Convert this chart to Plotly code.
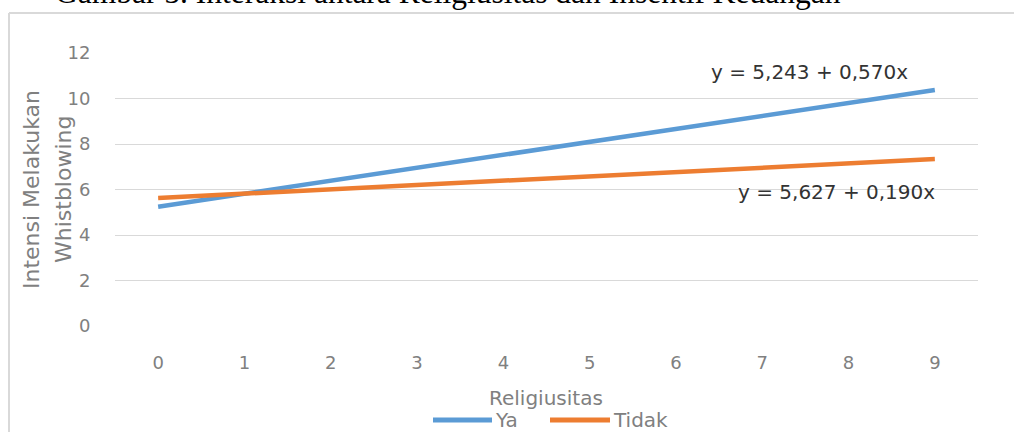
import plotly.graph_objects as go

categories = [0, 1, 2, 3, 4, 5, 6, 7, 8, 9]
series_names = ["Ya", "Tidak"]
series_colors = ["#5b9bd5", "#ed7d31"]
intercept_ya, slope_ya = 5.243, 0.570
intercept_tidak, slope_tidak = 5.627, 0.190
ya_values = [5.243, 5.813, 6.383, 6.953, 7.523, 8.093, 8.663, 9.233, 9.803, 10.373]
tidak_values = [5.627, 5.817, 6.007, 6.197, 6.387, 6.577, 6.767, 6.957, 7.147, 7.337]
y_ticks = [0, 2, 4, 6, 8, 10, 12]
x_title = "Religiusitas"
y_title_lines = ["Intensi Melakukan", "Whistblowing"]
caption = "Gambar 5. Interaksi antara Religiusitas dan Insentif Keuangan"

L, R, T, B = 115, 36, 53, 106
W, H = 1014, 432
pw, ph = W - L - R, H - T - B

def px(x):
    return (x - L) / pw

def py(y):
    return (H - B - y) / ph

font = "'DejaVu Sans', sans-serif"
gray = "#808080"

fig = go.Figure()
for name, vals, col in zip(series_names, [ya_values, tidak_values], series_colors):
    fig.add_trace(go.Scatter(x=categories, y=vals, mode="lines", name=name,
                             line=dict(color=col, width=4.5), showlegend=False,
                             hoverinfo="skip"))

fig.update_layout(
    width=W, height=H,
    margin=dict(l=L, r=R, t=T, b=B, autoexpand=False),
    paper_bgcolor="white", plot_bgcolor="white",
    font=dict(family=font, color=gray, size=18),
    showlegend=False,
    xaxis=dict(range=[-0.5, 9.5], tickvals=categories, showgrid=False, zeroline=False,
               showline=False, ticks="outside", ticklen=20, tickcolor="rgba(0,0,0,0)",
               tickfont=dict(size=18, color=gray), automargin=False),
    yaxis=dict(range=[0, 12], tickvals=y_ticks, showgrid=True, gridcolor="#d9d9d9",
               gridwidth=1, zeroline=False, showline=False, ticks="outside", ticklen=20,
               tickcolor="rgba(0,0,0,0)", tickfont=dict(size=18, color=gray), automargin=False),
)

# axis titles
fig.add_annotation(x=px(546), y=py(398), xref="paper", yref="paper", text=x_title,
                   xanchor="center", yanchor="middle",
                   showarrow=False, font=dict(size=20, color=gray, family=font))
for cx, line in zip([31, 63], y_title_lines):
    fig.add_annotation(x=px(cx), y=py(190), xref="paper", yref="paper", text=line,
                       xanchor="center", yanchor="middle",
                       textangle=-90, showarrow=False, font=dict(size=22, color=gray, family=font))

def eq(a, b):
    return ("y = %.3f + %.3fx" % (a, b)).replace(".", ",")

fig.add_annotation(x=7.547, y=11.16, xref="x", yref="y", text=eq(intercept_ya, slope_ya),
                   xanchor="center", yanchor="middle",
                   showarrow=False, font=dict(size=20, color="#333333", family=font))
fig.add_annotation(x=7.855, y=5.89, xref="x", yref="y", text=eq(intercept_tidak, slope_tidak),
                   xanchor="center", yanchor="middle",
                   showarrow=False, font=dict(size=20, color="#333333", family=font))

# manual legend (long line samples as in the reference)
legend_items = [(433, 492), (550, 610)]
for (x0, x1), name, col in zip(legend_items, series_names, series_colors):
    fig.add_shape(type="line", xref="paper", yref="paper", x0=px(x0), x1=px(x1),
                  y0=py(420), y1=py(420), line=dict(color=col, width=5))
    fig.add_annotation(x=px(x1 + 1), y=py(420), xref="paper", yref="paper", xanchor="left",
                       yanchor="middle", text=name, showarrow=False,
                       font=dict(size=20, color=gray, family=font))

# caption (cut off at top)
fig.add_annotation(x=px(448), y=py(12), xref="paper", yref="paper", xanchor="center",
                   yanchor="bottom", text=caption,
                   showarrow=False, font=dict(size=31.5, color="black", family="Liberation Serif, serif"))

# chart frame
fig.add_shape(type="line", xref="paper", yref="paper", x0=px(9), x1=px(1014), y0=py(13), y1=py(13),
              line=dict(color="#d9d9d9", width=2))
fig.add_shape(type="line", xref="paper", yref="paper", x0=px(9), x1=px(9), y0=py(13), y1=py(432),
              line=dict(color="#d9d9d9", width=2))

fig.write_html("out.html", config={"displayModeBar": False},
               post_script="document.body.style.margin='0';")
